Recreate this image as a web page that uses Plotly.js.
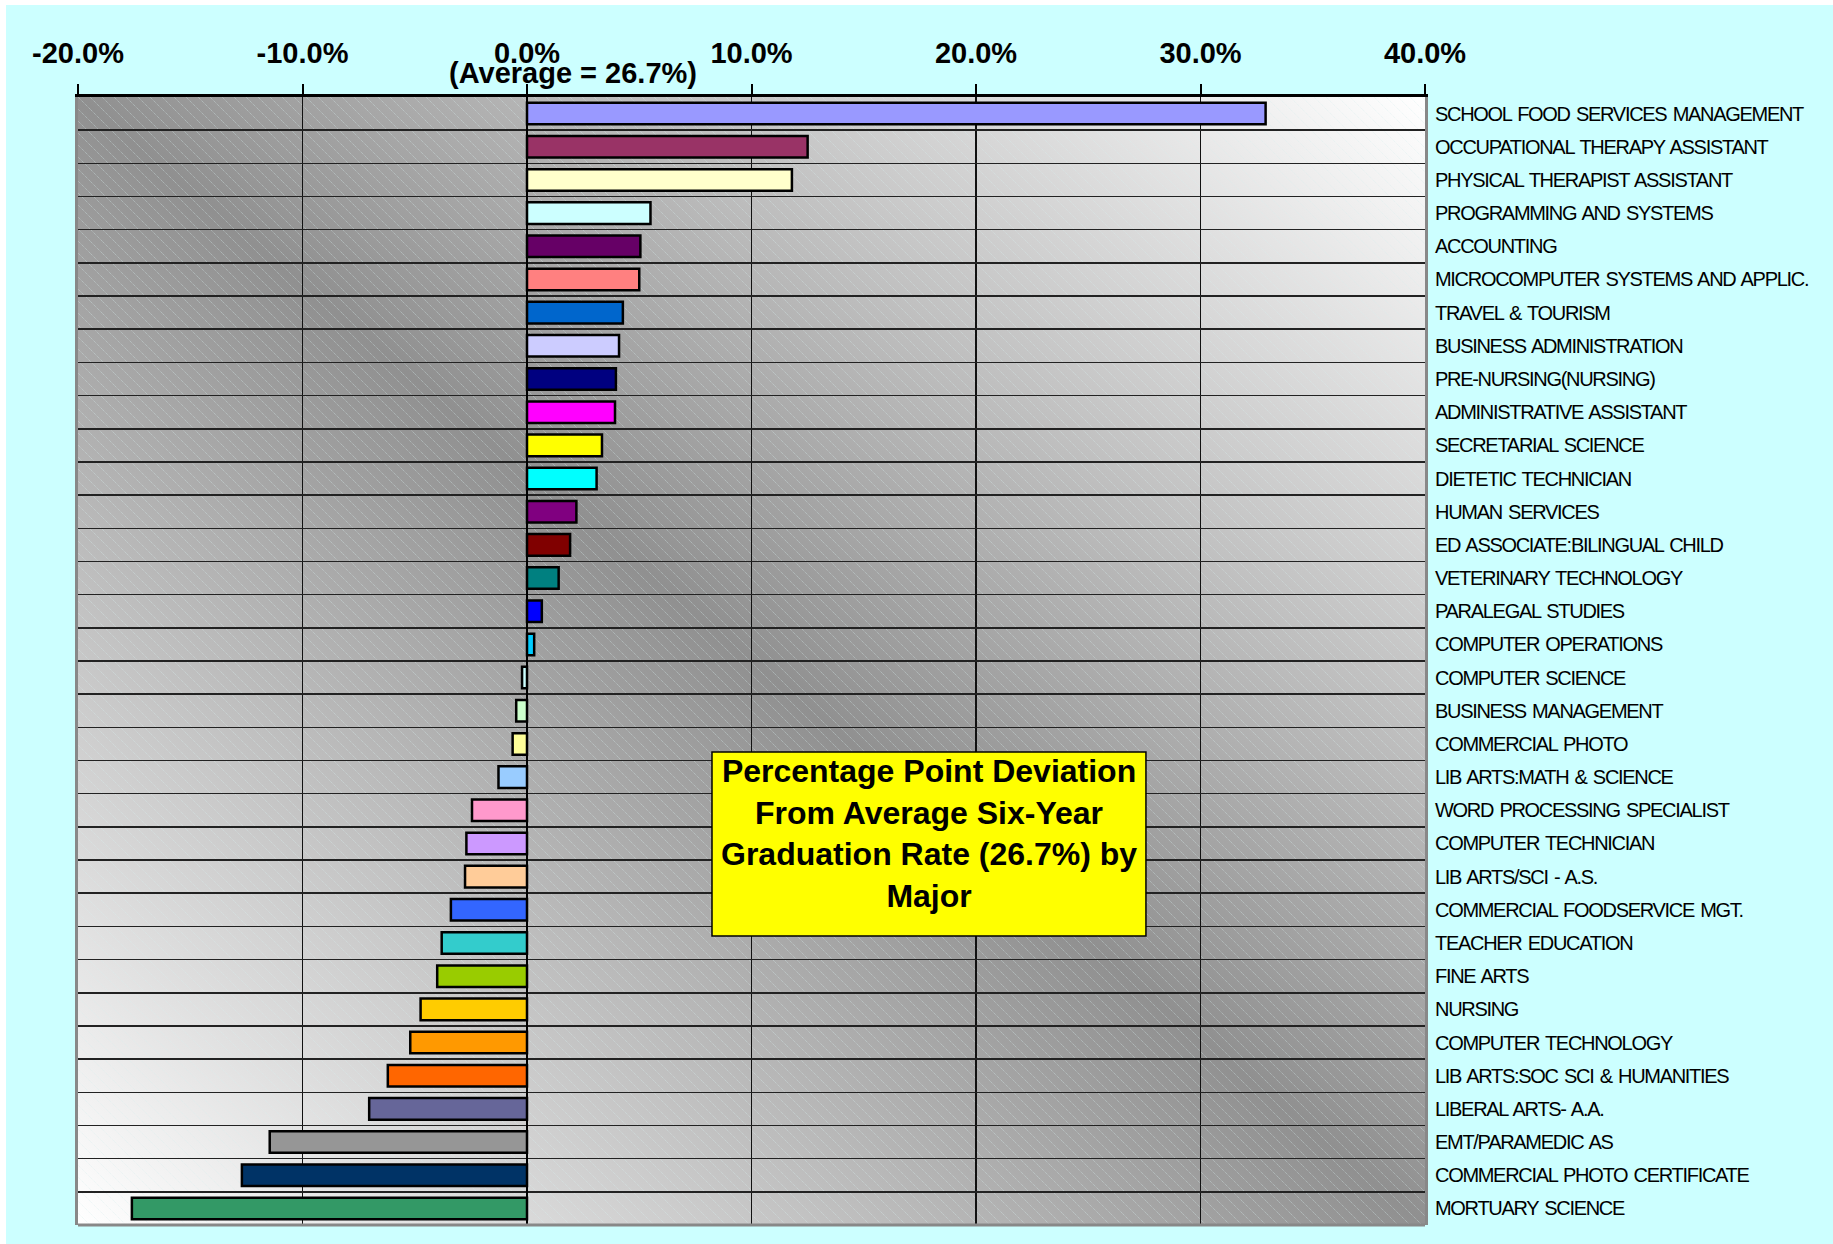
<!DOCTYPE html>
<html>
<head>
<meta charset="utf-8">
<script src="https://cdn.plot.ly/plotly-3.0.1.min.js"></script>
<style>
  html, body { margin: 0; padding: 0; background: #ffffff; }
  #chart { position: absolute; left: 6px; top: 5px; width: 1827px; height: 1239px; }
  #chart g.ytick text { letter-spacing: -1.3px; word-spacing: 2px; }
</style>
</head>
<body>
<div id="chart"></div>
<script>
// ---- data ----
const categories = [
  'SCHOOL FOOD SERVICES MANAGEMENT',
  'OCCUPATIONAL THERAPY ASSISTANT',
  'PHYSICAL THERAPIST ASSISTANT',
  'PROGRAMMING AND SYSTEMS',
  'ACCOUNTING',
  'MICROCOMPUTER SYSTEMS AND APPLIC.',
  'TRAVEL & TOURISM',
  'BUSINESS ADMINISTRATION',
  'PRE-NURSING(NURSING)',
  'ADMINISTRATIVE ASSISTANT',
  'SECRETARIAL SCIENCE',
  'DIETETIC TECHNICIAN',
  'HUMAN SERVICES',
  'ED ASSOCIATE:BILINGUAL CHILD',
  'VETERINARY TECHNOLOGY',
  'PARALEGAL STUDIES',
  'COMPUTER OPERATIONS',
  'COMPUTER SCIENCE',
  'BUSINESS MANAGEMENT',
  'COMMERCIAL PHOTO',
  'LIB ARTS:MATH & SCIENCE',
  'WORD PROCESSING SPECIALIST',
  'COMPUTER TECHNICIAN',
  'LIB ARTS/SCI - A.S.',
  'COMMERCIAL FOODSERVICE MGT.',
  'TEACHER EDUCATION',
  'FINE ARTS',
  'NURSING',
  'COMPUTER TECHNOLOGY',
  'LIB ARTS:SOC SCI & HUMANITIES',
  'LIBERAL ARTS- A.A.',
  'EMT/PARAMEDIC AS',
  'COMMERCIAL PHOTO CERTIFICATE',
  'MORTUARY SCIENCE'
];
// percentage-point deviation from the 26.7% average
const deviations = [
  32.9, 12.5, 11.8, 5.5, 5.05, 5.0, 4.27, 4.1, 3.96, 3.92,
  3.34, 3.1, 2.2, 1.92, 1.41, 0.66, 0.32, -0.22, -0.48, -0.64,
  -1.27, -2.45, -2.7, -2.76, -3.39, -3.8, -4.0, -4.74, -5.2, -6.2,
  -7.03, -11.46, -12.7, -17.6
];
const barColors = [
  '#9999FF', '#993366', '#FFFFCC', '#CCFFFF', '#660066', '#FF8080', '#0066CC', '#CCCCFF', '#000080', '#FF00FF',
  '#FFFF00', '#00FFFF', '#800080', '#800000', '#008080', '#0000FF', '#00CCFF', '#CCFFFF', '#CCFFCC', '#FFFF99',
  '#99CCFF', '#FF99CC', '#CC99FF', '#FFCC99', '#3366FF', '#33CCCC', '#99CC00', '#FFCC00', '#FF9900', '#FF6600',
  '#666699', '#969696', '#003366', '#339966'
];
const xTickVals = [-20, -10, 0, 10, 20, 30, 40];
const xTickText = ['-20.0%', '-10.0%', '0.0%', '10.0%', '20.0%', '30.0%', '40.0%'];
const averageNote = '(Average = 26.7%)';
const boxTitle = 'Percentage Point Deviation<br>From Average Six-Year<br>Graduation Rate (26.7%) by<br>Major';

// ---- plot background (gradient + light diagonal hatch) ----
const bgW = 1347, bgH = 1128;
const bgSvg =
  '<svg xmlns="http://www.w3.org/2000/svg" width="' + bgW + '" height="' + bgH + '" viewBox="0 0 ' + bgW + ' ' + bgH + '" preserveAspectRatio="none">' +
  '<defs>' +
  '<linearGradient id="g" x1="0" y1="1" x2="1" y2="0">' +
  '<stop offset="0" stop-color="#ffffff"/>' +
  '<stop offset="0.5" stop-color="#909090"/>' +
  '<stop offset="1" stop-color="#ffffff"/>' +
  '</linearGradient>' +
  '<pattern id="h" width="12" height="12" patternUnits="userSpaceOnUse">' +
  '<path d="M-3,-3 L15,15 M-3,9 L3,15 M9,-3 L15,3" stroke="#d8eeee" stroke-width="1" stroke-dasharray="1,1" stroke-opacity="0.5"/>' +
  '</pattern>' +
  '</defs>' +
  '<rect width="' + bgW + '" height="' + bgH + '" fill="url(#g)"/>' +
  '<rect width="' + bgW + '" height="' + bgH + '" fill="url(#h)"/>' +
  '</svg>';
const bgUri = 'data:image/svg+xml;charset=utf-8,' + encodeURIComponent(bgSvg);

const trace = {
  type: 'bar',
  orientation: 'h',
  x: deviations,
  y: categories,
  width: 0.65,
  marker: { color: barColors, line: { color: '#000000', width: 2.5 } },
  hoverinfo: 'none'
};

const layout = {
  width: 1827,
  height: 1239,
  margin: { l: 72, r: 408, t: 92, b: 19, pad: 0 },
  paper_bgcolor: '#CCFFFF',
  plot_bgcolor: 'rgba(0,0,0,0)',
  showlegend: false,
  bargap: 0.35,
  xaxis: {
    side: 'top',
    range: [-20, 40],
    tickvals: xTickVals,
    ticktext: xTickText,
    tickfont: { family: 'Liberation Sans, Arial, sans-serif', size: 29, color: '#000000', weight: 'bold' },
    ticks: 'outside',
    ticklen: 10,
    tickwidth: 2,
    tickcolor: '#000000',
    ticklabelstandoff: 9,
    showline: true,
    linecolor: '#000000',
    linewidth: 3,
    showgrid: true,
    gridcolor: '#111111',
    gridwidth: 1.2,
    zeroline: true,
    zerolinecolor: '#000000',
    zerolinewidth: 2,
    fixedrange: true
  },
  yaxis: {
    side: 'right',
    type: 'category',
    autorange: 'reversed',
    tickson: 'boundaries',
    ticks: '',
    showgrid: true,
    gridcolor: '#222222',
    gridwidth: 1.5,
    showline: true,
    mirror: true,
    linecolor: '#888888',
    linewidth: 3,
    ticklabelstandoff: 3,
    tickfont: { family: 'Liberation Sans, Arial, sans-serif', size: 20, color: '#000000' },
    fixedrange: true
  },
  images: [{
    source: bgUri,
    xref: 'paper', yref: 'paper',
    x: 0, y: 1, sizex: 1, sizey: 1,
    xanchor: 'left', yanchor: 'top',
    sizing: 'stretch',
    layer: 'below'
  }],
  shapes: [
    {
      type: 'line', xref: 'paper', yref: 'paper',
      x0: 0, x1: 1, y0: 0, y1: 0,
      line: { color: '#888888', width: 3 }
    },
    {
      type: 'rect', xref: 'x', yref: 'paper', layer: 'above',
      x0: 8.24, x1: 27.57, y0: 0.2562, y1: 0.4193,
      fillcolor: '#FFFF00',
      line: { color: '#000000', width: 1.5 }
    }
  ],
  annotations: [
    {
      text: averageNote,
      xref: 'x', yref: 'paper',
      x: 0, y: 1.021,
      xshift: 46,
      xanchor: 'center', yanchor: 'middle',
      showarrow: false,
      font: { family: 'Liberation Sans, Arial, sans-serif', size: 29, color: '#000000', weight: 'bold' }
    },
    {
      text: boxTitle,
      xref: 'x', yref: 'paper',
      x: 17.9, y: 0.347,
      xanchor: 'center', yanchor: 'middle',
      showarrow: false,
      align: 'center',
      font: { family: 'Liberation Sans, Arial, sans-serif', size: 32, color: '#000000', weight: 'bold' }
    }
  ]
};

Plotly.newPlot('chart', [trace], layout, { displayModeBar: false, staticPlot: true });
</script>
</body>
</html>
